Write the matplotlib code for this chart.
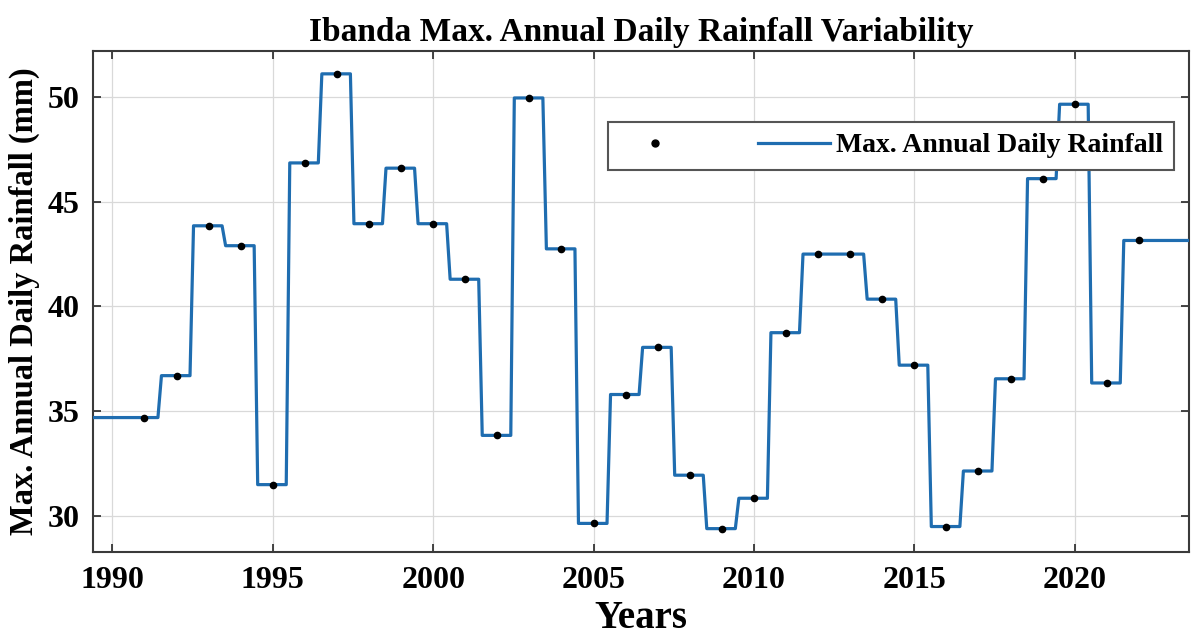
import numpy as np
import matplotlib
matplotlib.use("Agg")
import matplotlib.pyplot as plt
from matplotlib.lines import Line2D

# annual maxima (mm)
years = np.arange(1991, 2023)
rain = [34.7, 36.7, 43.85, 42.9, 31.5, 46.85, 51.1, 43.95, 46.6, 43.95,
        41.3, 33.85, 49.95, 42.75, 29.65, 35.8, 38.05, 31.95, 29.4, 30.85,
        38.75, 42.5, 42.5, 40.35, 37.2, 29.5, 32.15, 36.55, 46.1, 49.65,
        36.35, 43.15]

plt.rcParams['font.family'] = ['Liberation Serif', 'DejaVu Serif']
plt.rcParams['font.weight'] = 'bold'

# stepped curve: flat around each year, steep ramp near the half year
pre, post = 0.47, 0.42
xs, ys = [], []
for i, (x, y) in enumerate(zip(years, rain)):
    x0 = x - pre if i > 0 else 1985.0
    x1 = x + post if i < len(years) - 1 else 2030.0
    xs += [x0, x1]
    ys += [y, y]

fig = plt.figure(figsize=(11.94, 6.43), dpi=100)
ax = fig.add_axes([0.078, 0.142, 0.918, 0.779])

blue = '#1f6db0'
ax.plot(xs, ys, color=blue, lw=2.3, zorder=3)
ax.plot(years, rain, 'o', color='black', ms=4.5, zorder=4)

ax.set_xlim(1989.4, 2023.57)
ax.set_ylim(28.3, 52.2)
ax.set_xticks(np.arange(1990, 2021, 5))
ax.set_yticks(np.arange(30, 51, 5))
ax.grid(True, color='#d9d9d9', lw=0.9)
ax.set_axisbelow(True)
ax.tick_params(direction='in', length=6, width=1.2, top=True, right=True,
               labelsize=23, colors='#262626', pad=10)
for lab in ax.get_xticklabels() + ax.get_yticklabels():
    lab.set_color('black')
for s in ax.spines.values():
    s.set_linewidth(1.5)
    s.set_color('#3a3a3a')

ax.set_title('Ibanda Max. Annual Daily Rainfall Variability', fontsize=24,
             fontweight='bold', pad=7)
ax.set_xlabel('Years', fontsize=28, fontweight='bold', labelpad=4)
ax.set_ylabel('Max. Annual Daily Rainfall (mm)', fontsize=23.5,
              fontweight='bold', labelpad=5)

h1 = Line2D([], [], ls='none', marker='o', color='black', ms=5)
h2 = Line2D([], [], color=blue, lw=2.3)
leg = ax.legend([h1, h2], ['', 'Max. Annual Daily Rainfall'], ncol=2,
                loc='upper right', bbox_to_anchor=(0.9863, 0.858),
                borderaxespad=0, fancybox=False, framealpha=1,
                edgecolor='#555555', fontsize=20, handlelength=2.6,
                columnspacing=2.2, handletextpad=0.2, borderpad=0.4)
leg.get_frame().set_linewidth(1.5)
for t in leg.get_texts():
    t.set_fontweight('bold')

fig.savefig('out.png', dpi=100)
